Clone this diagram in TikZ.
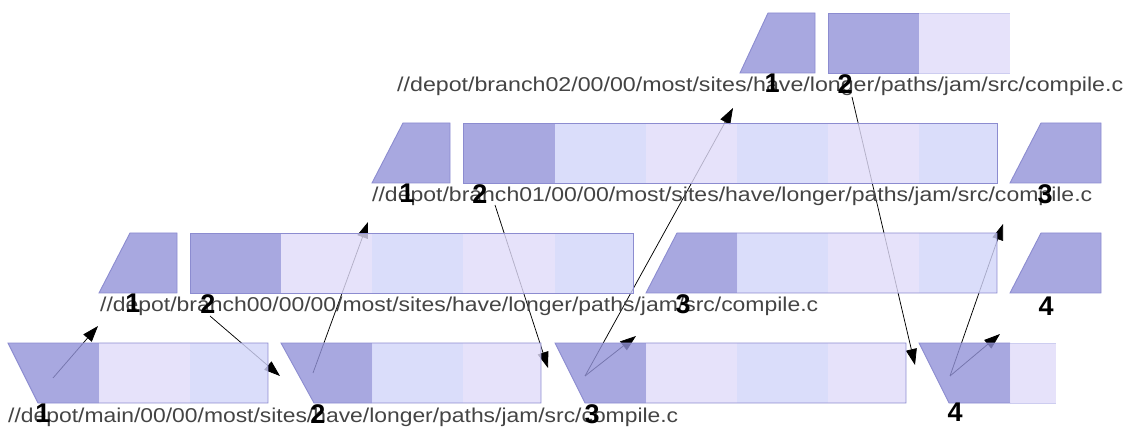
\documentclass[tikz,border=0pt]{standalone}
\usepackage{fontspec}
\setmainfont{Liberation Sans}
\usetikzlibrary{arrows.meta}
\definecolor{revdark}{RGB}{146,146,216}
\definecolor{cellA}{RGB}{209,212,249}
\definecolor{cellB}{RGB}{224,219,249}
\definecolor{boxline}{RGB}{140,140,208}
\definecolor{fadeline}{RGB}{205,205,240}
\definecolor{pathtext}{RGB}{68,68,68}
\tikzset{
  cellfill/.style={fill opacity=0.8},
  boxedge/.style={draw=boxline, line width=0.9pt},
  fadeedge/.style={draw=fadeline, line width=0.9pt},
  link/.style={draw=black, line width=0.75pt, -{Triangle[length=16pt,width=11pt]}},
  pathlbl/.style={anchor=base west, inner sep=0pt, text=pathtext, font=\fontsize{20}{24}\selectfont},
  revnum/.style={anchor=north, inner sep=0pt, font=\fontsize{27}{30}\selectfont\bfseries},
}
\begin{document}
\begin{tikzpicture}[x=1pt,y=-1pt]
\useasboundingbox (0,0) rectangle (1129,427);

% ---------- connector end points ----------
\coordinate (s1) at (53,378);  \coordinate (t1) at (98,326);
\coordinate (s2) at (210,316); \coordinate (t2) at (280,376);
\coordinate (s3) at (313,373); \coordinate (t3) at (368,222);
\coordinate (s4) at (495,205); \coordinate (t4) at (548,368);
\coordinate (s5) at (585,376); \coordinate (t5) at (733,108);
\coordinate (s6) at (585,376); \coordinate (t6) at (636,336);
\coordinate (s7) at (852,97);  \coordinate (t7) at (915,365);
\coordinate (s8) at (950,376); \coordinate (t8) at (1003,224);
\coordinate (s9) at (950,376); \coordinate (t9) at (1000,334);

% ---------- connectors (behind the boxes) ----------
\draw[link] (s1) -- (t1);
\draw[link] (s2) -- (t2);
\draw[link] (s3) -- (t3);
\draw[link] (s4) -- (t4);
\draw[link] (s5) -- (t5);
\draw[link] (s6) -- (t6);
\draw[link] (s7) -- (t7);
\draw[link] (s8) -- (t8);
\draw[link] (s9) -- (t9);

% ---------- main row ----------
\fill[revdark,cellfill] (8,343) -- (99,343) -- (99,403) -- (38,403) -- cycle;
\fill[cellB,cellfill] (99,343) rectangle (190,403);
\fill[cellA,cellfill] (190,343) rectangle (268,403);
\draw[boxedge] (8,343) -- (268,343) -- (268,403) -- (38,403) -- cycle;

\fill[revdark,cellfill] (281,343) -- (372,343) -- (372,403) -- (314,403) -- cycle;
\fill[cellA,cellfill] (372,343) rectangle (463,403);
\fill[cellB,cellfill] (463,343) rectangle (541,403);
\draw[boxedge] (281,343) -- (541,343) -- (541,403) -- (314,403) -- cycle;

\fill[revdark,cellfill] (555,343) -- (646,343) -- (646,403) -- (585,403) -- cycle;
\fill[cellB,cellfill] (646,343) rectangle (737,403);
\fill[cellA,cellfill] (737,343) rectangle (828,403);
\fill[cellB,cellfill] (828,343) rectangle (906,403);
\draw[boxedge] (555,343) -- (906,343) -- (906,403) -- (585,403) -- cycle;

\fill[revdark,cellfill] (919,343) -- (1010,343) -- (1010,403) -- (949,403) -- cycle;
\fill[cellB,cellfill] (1010,343) rectangle (1056,403);
\draw[fadeedge] (1010,343) -- (1056,343) (1010,403) -- (1056,403);
\draw[boxedge] (1010,343) -- (919,343) -- (949,403) -- (1010,403);

% ---------- branch00 row ----------
\fill[revdark,cellfill] (99,293) -- (130,233) -- (177,233) -- (177,293) -- cycle;
\draw[boxedge] (99,293) -- (130,233) -- (177,233) -- (177,293) -- cycle;

\fill[revdark,cellfill] (190,233) rectangle (281,293);
\fill[cellB,cellfill] (281,233) rectangle (372,293);
\fill[cellA,cellfill] (372,233) rectangle (463,293);
\fill[cellB,cellfill] (463,233) rectangle (555,293);
\fill[cellA,cellfill] (555,233) rectangle (633,293);
\draw[boxedge] (190,233) rectangle (633,293);

\fill[revdark,cellfill] (646,293) -- (677,233) -- (737,233) -- (737,293) -- cycle;
\fill[cellA,cellfill] (737,233) rectangle (828,293);
\fill[cellB,cellfill] (828,233) rectangle (919,293);
\fill[cellA,cellfill] (919,233) rectangle (997,293);
\draw[boxedge] (646,293) -- (677,233) -- (997,233) -- (997,293) -- cycle;

\fill[revdark,cellfill] (1010,293) -- (1041,233) -- (1101,233) -- (1101,293) -- cycle;
\draw[boxedge] (1010,293) -- (1041,233) -- (1101,233) -- (1101,293) -- cycle;

% ---------- branch01 row ----------
\fill[revdark,cellfill] (372,183) -- (403,123) -- (450,123) -- (450,183) -- cycle;
\draw[boxedge] (372,183) -- (403,123) -- (450,123) -- (450,183) -- cycle;

\fill[revdark,cellfill] (463,123) rectangle (555,183);
\fill[cellA,cellfill] (555,123) rectangle (646,183);
\fill[cellB,cellfill] (646,123) rectangle (737,183);
\fill[cellA,cellfill] (737,123) rectangle (828,183);
\fill[cellB,cellfill] (828,123) rectangle (919,183);
\fill[cellA,cellfill] (919,123) rectangle (997,183);
\draw[boxedge] (463,123) rectangle (997,183);

\fill[revdark,cellfill] (1010,183) -- (1041,123) -- (1101,123) -- (1101,183) -- cycle;
\draw[boxedge] (1010,183) -- (1041,123) -- (1101,123) -- (1101,183) -- cycle;

% ---------- branch02 row ----------
\fill[revdark,cellfill] (740,73) -- (768,13) -- (815,13) -- (815,73) -- cycle;
\draw[boxedge] (740,73) -- (768,13) -- (815,13) -- (815,73) -- cycle;

\fill[revdark,cellfill] (828,13) rectangle (919,73);
\fill[cellB,cellfill] (919,13) rectangle (1010,73);
\draw[fadeedge] (919,13) -- (1010,13) (919,73) -- (1010,73);
\draw[boxedge] (919,13) -- (828,13) -- (828,73) -- (919,73);

% ---------- path texts ----------
\node[pathlbl] (p0) at (8,422)
  {\resizebox{670pt}{\height}{//depot/main/00/00/most/sites/have/longer/paths/jam/src/compile.c}};
\node[pathlbl] (p1) at (100,312)
  {\resizebox{718pt}{\height}{//depot/branch00/00/00/most/sites/have/longer/paths/jam/src/compile.c}};
\node[pathlbl] (p2) at (372,202)
  {\resizebox{720pt}{\height}{//depot/branch01/00/00/most/sites/have/longer/paths/jam/src/compile.c}};
\node[pathlbl] (p3) at (397,92)
  {\resizebox{726pt}{\height}{//depot/branch02/00/00/most/sites/have/longer/paths/jam/src/compile.c}};

% ---------- revision numbers ----------
\node[revnum] (m1) at (43,404) {1};
\node[revnum] (m2) at (318,404) {2};
\node[revnum] (m3) at (592,404) {3};
\node[revnum] (m4) at (955,403) {4};

\node[revnum] (a1) at (133,294) {1};
\node[revnum] (a2) at (208,294) {2};
\node[revnum] (a3) at (683,294) {3};
\node[revnum] (a4) at (1046,297) {4};

\node[revnum] (b1) at (407,184) {1};
\node[revnum] (b2) at (480,184) {2};
\node[revnum] (b3) at (1045,184) {3};

\node[revnum] (c1) at (772,74) {1};
\node[revnum] (c2) at (845,74) {2};
\end{tikzpicture}
\end{document}
